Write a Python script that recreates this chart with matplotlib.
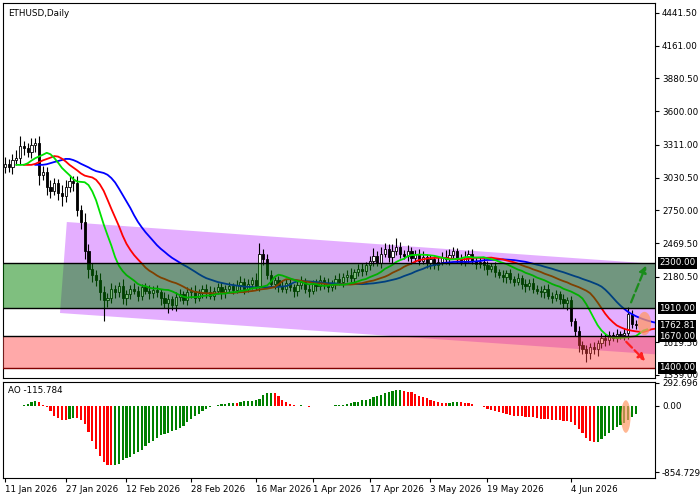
import numpy as np
import pandas as pd
import matplotlib
matplotlib.use("Agg")
import matplotlib.pyplot as plt
from matplotlib.patches import Polygon, Ellipse

closes = [3150, 3120, 3180, 3200, 3300, 3280, 3250, 3310, 3330,
          3050, 3080, 2950, 2920, 2980, 2900, 2870, 2950, 3000, 2980,
          2750, 2650, 2400, 2250, 2200, 2150, 2050, 1980, 2000,
          2080, 2050, 2100, 2000, 2030, 2080, 2060, 2020, 2090, 2060, 2040, 2070, 2050,
          2000, 1960, 1990, 1940, 2010,
          2030, 1980, 2050, 2060, 2000, 2040, 2080, 2050, 2020, 2060, 2090, 2040, 2080, 2100, 2070,
          2110, 2140, 2080, 2120, 2150, 2100, 2380, 2330, 2200,
          2120, 2150, 2100, 2080, 2130, 2090, 2060, 2110, 2140, 2080, 2060, 2120, 2100, 2150, 2130, 2090,
          2120, 2160, 2140, 2180, 2200, 2170, 2220, 2250, 2230, 2280,
          2320, 2360, 2300, 2380, 2420, 2350, 2400, 2440, 2380, 2360, 2400, 2340, 2380, 2320, 2350,
          2300, 2330, 2280, 2310, 2350, 2330, 2370, 2400, 2340, 2310, 2350, 2380, 2320, 2290, 2310,
          2280, 2250, 2270, 2220, 2200, 2180, 2210, 2160, 2140, 2170, 2120, 2100, 2130, 2080, 2060,
          2050, 2080, 2020, 2000, 2030, 1990, 1960, 1980,
          1800, 1720, 1600, 1560,
          1530, 1580, 1560, 1610,
          1660, 1640, 1680, 1660, 1690, 1680, 1700,
          1860, 1780, 1763]
wick_hi = [60, 40, 50, 70, 90, 40, 50, 60, 40, 60, 50, 40, 60, 50, 40, 70, 60, 50, 40, 60,
           50, 80, 60, 50, 40, 60, 50, 40, 50, 30, 40, 60, 40, 30, 50, 40, 30, 40, 50, 30,
           40, 30, 50, 40, 30, 40, 50, 30, 40, 30, 50, 40, 30, 40, 50, 30, 40, 50, 30, 40,
           30, 40, 50, 30, 40, 30, 60, 90, 40, 50, 40, 30, 40, 50, 30, 40, 30, 40, 50, 30,
           40, 30, 40, 50, 30, 40, 30, 40, 50, 30, 40, 60, 30, 40, 50, 30, 40, 70, 40, 60,
           50, 40, 60, 70, 40, 30, 50, 40, 30, 40, 50, 30, 40, 30, 50, 40, 60, 50, 40, 30,
           40, 50, 30, 40, 30, 40, 30, 40, 30, 40, 30, 40, 30, 40, 30, 40, 30, 40, 30, 40,
           30, 40, 30, 40, 30, 40, 30, 40, 30, 40, 30, 40, 30, 40, 30, 40, 30, 40, 30, 40,
           30, 40, 30, 40, 60, 40, 30]
wick_lo = [50, 40, 60, 40, 50, 60, 40, 50, 60, 80, 40, 70, 60, 40, 60, 80, 50, 40, 60, 50,
           60, 70, 80, 60, 50, 70, 180, 60, 40, 50, 40, 50, 60, 40, 30, 50, 40, 30, 50, 40,
           40, 60, 50, 90, 40, 50, 40, 30, 40, 50, 40, 30, 40, 50, 30, 40, 30, 50, 40, 30,
           40, 30, 40, 50, 30, 40, 30, 40, 50, 40, 30, 40, 50, 30, 40, 30, 50, 40, 30, 40,
           50, 30, 40, 30, 50, 40, 30, 40, 30, 50, 40, 30, 40, 30, 40, 30, 40, 50, 30, 40,
           30, 40, 50, 30, 40, 30, 40, 50, 30, 40, 30, 40, 50, 30, 40, 30, 40, 50, 30, 40,
           30, 40, 50, 30, 40, 30, 40, 50, 30, 40, 30, 40, 50, 30, 40, 30, 40, 50, 30, 40,
           30, 40, 50, 30, 40, 30, 40, 50, 60, 40, 50, 60, 40, 80, 50, 40, 60, 40, 50, 40,
           30, 40, 30, 40, 50, 40, 30]

date_pos = [0, 16, 32, 49, 66, 81, 96, 112, 127, 149]
date_labels = ["11 Jan 2026", "27 Jan 2026", "12 Feb 2026", "28 Feb 2026", "16 Mar 2026",
               "1 Apr 2026", "17 Apr 2026", "3 May 2026", "19 May 2026", "4 Jun 2026"]
price_ticks = [4441.50, 4161.00, 3880.50, 3600.00, 3311.00, 3030.50, 2750.00, 2469.50,
               2180.50, 1619.50, 1339.00]
level_ticks = [2300.00, 1910.00, 1762.81, 1670.00, 1400.00]
ao_ticks = [292.696, 0.00, -854.729]

c = np.array(closes, dtype=float)
o = np.r_[c[0] - 30, c[:-1]]
hi = np.maximum(o, c) + np.array(wick_hi)
lo = np.minimum(o, c) - np.array(wick_lo)
n = len(c)
idx = np.arange(n)
fs = 6.3

fig = plt.figure(figsize=(7, 5), dpi=100)
ax = fig.add_axes([3 / 700, 1 - 378 / 500, 652 / 700, 375 / 500])
ax2 = fig.add_axes([3 / 700, 1 - 478 / 500, 652 / 700, 96 / 500])
xmax = -0.5 + 652 / 3.8

# channel
ax.add_patch(Polygon([[16.3, 2650], [171.6, 2290], [171.6, 1515], [14.5, 1870]],
                     closed=True, facecolor="#d98cff", alpha=0.7, edgecolor="none", zorder=1))

# candles
for i in range(n):
    ax.vlines(i, lo[i], hi[i], color="black", lw=0.8, zorder=2)
    fc = "white" if c[i] >= o[i] else "black"
    ax.bar(i, max(abs(c[i] - o[i]), 6), bottom=min(o[i], c[i]), width=0.6,
           facecolor=fc, edgecolor="black", lw=0.6, zorder=2)

# alligator
med = pd.Series((hi + lo) / 2)
for per, sh, col in [(13, 8, "#0000ff"), (8, 5, "#ff0000"), (5, 3, "#00e000")]:
    sm = med.ewm(alpha=1 / per, adjust=False).mean().values
    ax.plot(idx + sh, sm, color=col, lw=1.3, zorder=3)

# zones
ax.axhspan(1910, 2300, color="#008000", alpha=0.5, lw=0, zorder=4)
ax.axhspan(1400, 1670, color="#ff4040", alpha=0.45, lw=0, zorder=4)
for lv, col in [(2300, "black"), (1910, "black"), (1670, "black"), (1400, "#800000")]:
    ax.axhline(lv, color=col, lw=1, zorder=5)

ax.annotate("", xy=(169, 2299), xytext=(164.5, 1939),
            arrowprops=dict(arrowstyle="-|>", ls="--", color="#1a8c1a", lw=1.6), zorder=6)
ax.annotate("", xy=(169, 1442), xytext=(163, 1640),
            arrowprops=dict(arrowstyle="-|>", ls="--", color="#ff2020", lw=1.6), zorder=6)
ax.add_patch(Ellipse((168.3, 1780), 3.5, 200, facecolor="#ff9966",
                     alpha=0.75, edgecolor="none", zorder=5))

ax.set_xlim(-0.5, xmax)
ax.set_ylim(1313, 4527)
ax.set_xticks([])
ax.yaxis.tick_right()
ax.set_yticks(price_ticks)
ax.set_yticklabels([f"{v:.2f}" for v in price_ticks], fontsize=fs)
ax.tick_params(axis="y", length=3, pad=2)
for lv in level_ticks:
    ax.text(1.006, lv, f"{lv:.2f}", transform=ax.get_yaxis_transform(), fontsize=fs,
            color="white", va="center", ha="left",
            bbox=dict(facecolor="black", edgecolor="none", pad=1.0))
ax.text(0.008, 0.985, "ETHUSD,Daily", transform=ax.transAxes, fontsize=fs, va="top")

# awesome oscillator
ao = (med.rolling(5, min_periods=1).mean() - med.rolling(34, min_periods=1).mean()).values
cols = ["#008000" if i > 0 and ao[i] > ao[i - 1] else "#ff0000" for i in range(n)]
ax2.bar(idx, ao, width=0.6, color=cols)
ax2.add_patch(Ellipse((163.4, -140), 2.5, 420, facecolor="#ff9966", alpha=0.7,
                      edgecolor="none", zorder=5))
ax2.set_xlim(-0.5, xmax)
ax2.set_ylim(-932, 305)
ax2.yaxis.tick_right()
ax2.set_yticks(ao_ticks)
ax2.set_yticklabels(["292.696", "0.00", "-854.729"], fontsize=fs)
ax2.tick_params(axis="y", length=3, pad=2)
ax2.set_xticks(date_pos)
ax2.set_xticklabels(date_labels, fontsize=fs, ha="left")
ax2.tick_params(axis="x", length=3, pad=2)
ax2.text(0.008, 0.96, "AO -115.784", transform=ax2.transAxes, fontsize=fs, va="top")

fig.savefig("out.png", dpi=100)
